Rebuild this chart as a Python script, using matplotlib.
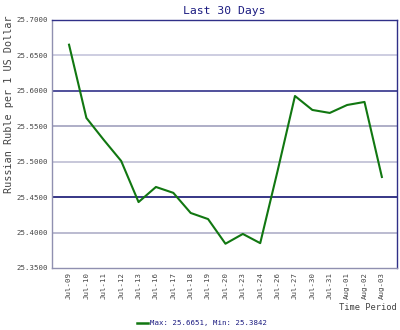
import matplotlib
matplotlib.use("Agg")
import matplotlib.pyplot as plt

dates = ["Jul-09", "Jul-10", "Jul-11", "Jul-12", "Jul-13", "Jul-16", "Jul-17", "Jul-18",
         "Jul-19", "Jul-20", "Jul-23", "Jul-24", "Jul-26", "Jul-27", "Jul-30", "Jul-31",
         "Aug-01", "Aug-02", "Aug-03"]
rates = [25.6651, 25.5617, 25.5307, 25.5010, 25.4430, 25.4643, 25.4560, 25.4276,
         25.4190, 25.3842, 25.3980, 25.3850, 25.4870, 25.5927, 25.5730, 25.5688,
         25.5800, 25.5843, 25.4784]
yticks = [25.35, 25.40, 25.45, 25.50, 25.55, 25.60, 25.65, 25.70]

mono = "DejaVu Sans Mono"
navy = "#1a1a80"

fig = plt.figure(figsize=(4.0, 3.3), dpi=100)
ax = fig.add_axes([0.13, 0.188, 0.8625, 0.7515])

grid_colors = {25.40: "#a8a8c4", 25.45: "#000066", 25.50: "#b8b8d0",
               25.55: "#9898b8", 25.60: "#202080", 25.65: "#c0c0d8"}
for v, c in grid_colors.items():
    ax.axhline(v, color=c, lw=1.1, zorder=1)

x = list(range(len(dates)))
ax.plot(x, rates, color="#117711", lw=1.5, zorder=3)

ax.set_xlim(-0.98, 18.87)
ax.set_ylim(25.35, 25.70)
ax.set_yticks(yticks)
ax.set_yticklabels([f"{v:.4f}" for v in yticks], family=mono, fontsize=5.3, color="#444444")
ax.set_xticks(x)
ax.set_xticklabels(dates, rotation=90, family=mono, fontsize=5.3, color="#444444")
ax.tick_params(length=0, pad=3)

for side in ["left", "bottom"]:
    ax.spines[side].set_color("#9090b0")
for side in ["top", "right"]:
    ax.spines[side].set_color("#303088")
for s in ax.spines.values():
    s.set_linewidth(1.0)

fig.text(0.56, 0.968, "Last 30 Days", family=mono, fontsize=8.2, color=navy,
         ha="center", va="center")
fig.text(0.022, 0.683, "Russian Ruble per 1 US Dollar", family=mono, fontsize=7.3,
         color="#444444", rotation=90, ha="center", va="center")
fig.text(0.993, 0.067, "Time Period", family=mono, fontsize=6.3, color="#444444",
         ha="right", va="center")

fig.lines.append(plt.Line2D([0.343, 0.370], [0.021, 0.021], transform=fig.transFigure,
                            color="#117711", lw=1.8))
fig.text(0.374, 0.021, "Max: 25.6651, Min: 25.3842", family=mono, fontsize=5.3,
         color=navy, ha="left", va="center")

fig.savefig("out.png", dpi=100)
